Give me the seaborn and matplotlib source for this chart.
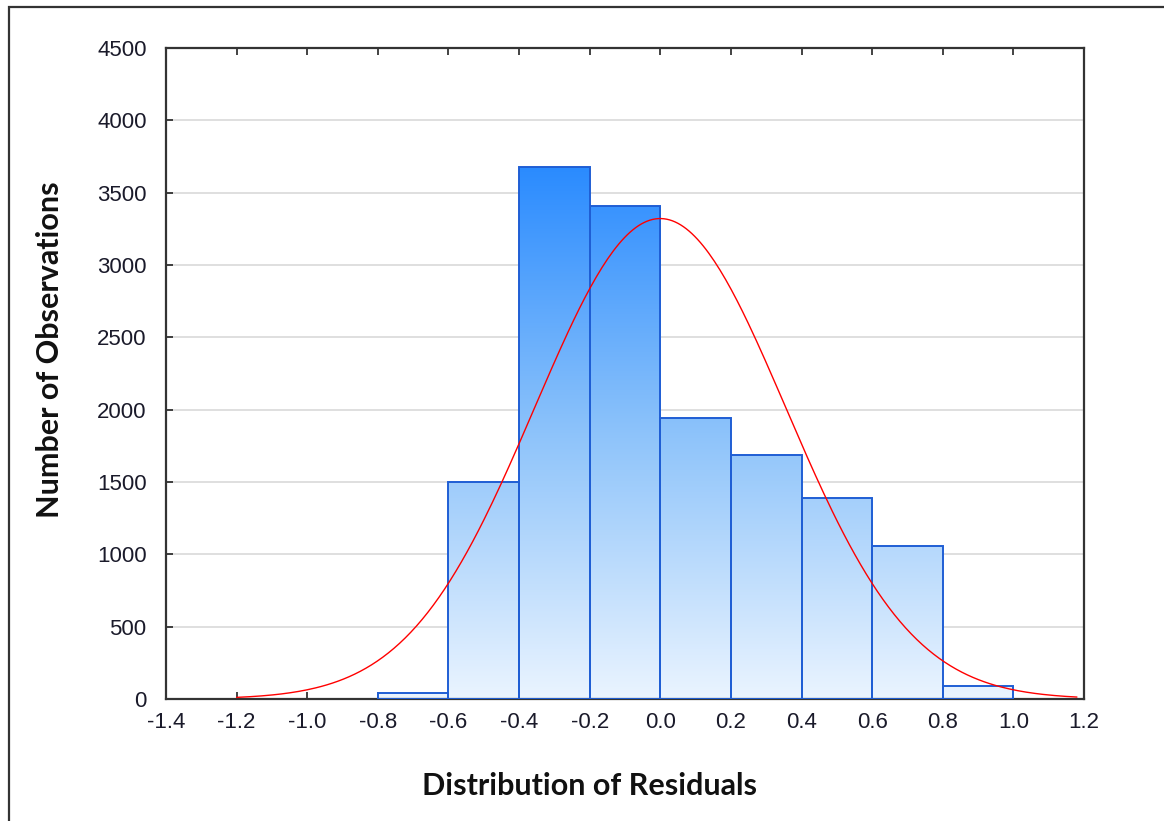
import numpy as np
import pandas as pd
import matplotlib
matplotlib.use("Agg")
import matplotlib.pyplot as plt
from matplotlib.colors import LinearSegmentedColormap
from matplotlib.patches import Rectangle
import seaborn as sns

# ---- data ----
bin_edges = [-0.8, -0.6, -0.4, -0.2, 0.0, 0.2, 0.4, 0.6, 0.8, 1.0]
bin_counts = [40, 1500, 3680, 3410, 1940, 1690, 1390, 1060, 90]
x_ticks = [-1.4, -1.2, -1.0, -0.8, -0.6, -0.4, -0.2, 0.0, 0.2, 0.4, 0.6, 0.8, 1.0, 1.2]
y_ticks = [0, 500, 1000, 1500, 2000, 2500, 3000, 3500, 4000, 4500]
x_label = "Distribution of Residuals"
y_label = "Number of Observations"

sns.set_theme(style="white")
plt.rcParams["font.family"] = ["Liberation Sans", "DejaVu Sans"]

fig = plt.figure(figsize=(11.64, 8.21), dpi=100)
ax = fig.add_axes([166 / 1164, 1 - 699 / 821, (1084 - 166) / 1164, (699 - 48) / 821])

edges = np.array(bin_edges)
counts = np.array(bin_counts, dtype=float)
centers = (edges[:-1] + edges[1:]) / 2
df = pd.DataFrame({"resid": centers, "count": counts})

sns.histplot(data=df, x="resid", weights="count", bins=list(bin_edges), ax=ax,
             stat="count", element="bars", fill=True,
             color="#2B8CFF", edgecolor="#1F5ED4", linewidth=1.4, alpha=1)

ax.set_xlim(-1.4, 1.2)
ax.set_ylim(0, 4500)

# gradient fill for each bar
cmap = LinearSegmentedColormap.from_list(
    "grad", [(0.0, "#EAF4FF"), (0.5, "#8DC3FA"), (1.0, "#2A8BFF")])
grad = np.linspace(0, 1, 256).reshape(-1, 1)
gmax = counts.max()
for p in list(ax.patches):
    p.set_facecolor("none")
    p.set_zorder(3)
    im = ax.imshow(grad, cmap=cmap, origin="lower", aspect="auto",
                   extent=[-1.4, 1.2, 0, gmax], zorder=2, interpolation="bicubic")
    im.set_clip_path(p)
ax.set_xlim(-1.4, 1.2)
ax.set_ylim(0, 4500)

# fitted normal curve from the histogram
n = counts.sum()
bw = edges[1] - edges[0]
mu = np.sum(centers * counts) / n
sd = np.sqrt(np.sum((centers - mu) ** 2 * counts) / n)
xs = np.linspace(-1.2, 1.18, 300)
ys = n * bw / (sd * np.sqrt(2 * np.pi)) * np.exp(-0.5 * ((xs - mu) / sd) ** 2)
sns.lineplot(x=xs, y=ys, ax=ax, color="#FF0000", linewidth=1.0, zorder=4)

# grid, ticks, spines
ax.set_axisbelow(True)
ax.yaxis.grid(True, color="#D9D9D9", linewidth=1.2)
ax.xaxis.grid(False)
ax.set_xticks(x_ticks)
ax.set_xticklabels([f"{v:.1f}" for v in x_ticks])
ax.set_yticks(y_ticks)
ax.set_yticklabels([str(v) for v in y_ticks])
ax.tick_params(axis="both", which="both", direction="in", length=5, width=1.2,
               color="#222222", labelsize=16, labelcolor="#1a1a2a",
               top=True, right=False, bottom=True, left=True)
ax.tick_params(axis="x", pad=9)
ax.tick_params(axis="y", pad=14)
for s in ax.spines.values():
    s.set_color("#333333")
    s.set_linewidth(1.6)

ax.set_xlabel(x_label, fontsize=22, fontweight="bold", family=["Lato", "DejaVu Sans"],
              color="#111111")
ax.set_ylabel(y_label, fontsize=22, fontweight="bold", family=["Lato", "DejaVu Sans"],
              color="#111111")
ax.xaxis.label.set_va("center")
ax.xaxis.set_label_coords((589 - 166) / 918, -(786 - 699) / 651)
ax.yaxis.label.set_va("center")
ax.yaxis.set_label_coords((50 - 166) / 918, (699 - 350) / 651)

# outer frame
fig.patches.append(Rectangle((9 / 1164, -0.1), 1.2, 1 - 7 / 821 + 0.1,
                             transform=fig.transFigure, fill=False,
                             edgecolor="#333333", linewidth=1.6, zorder=10))

fig.savefig("out.png", dpi=100)
